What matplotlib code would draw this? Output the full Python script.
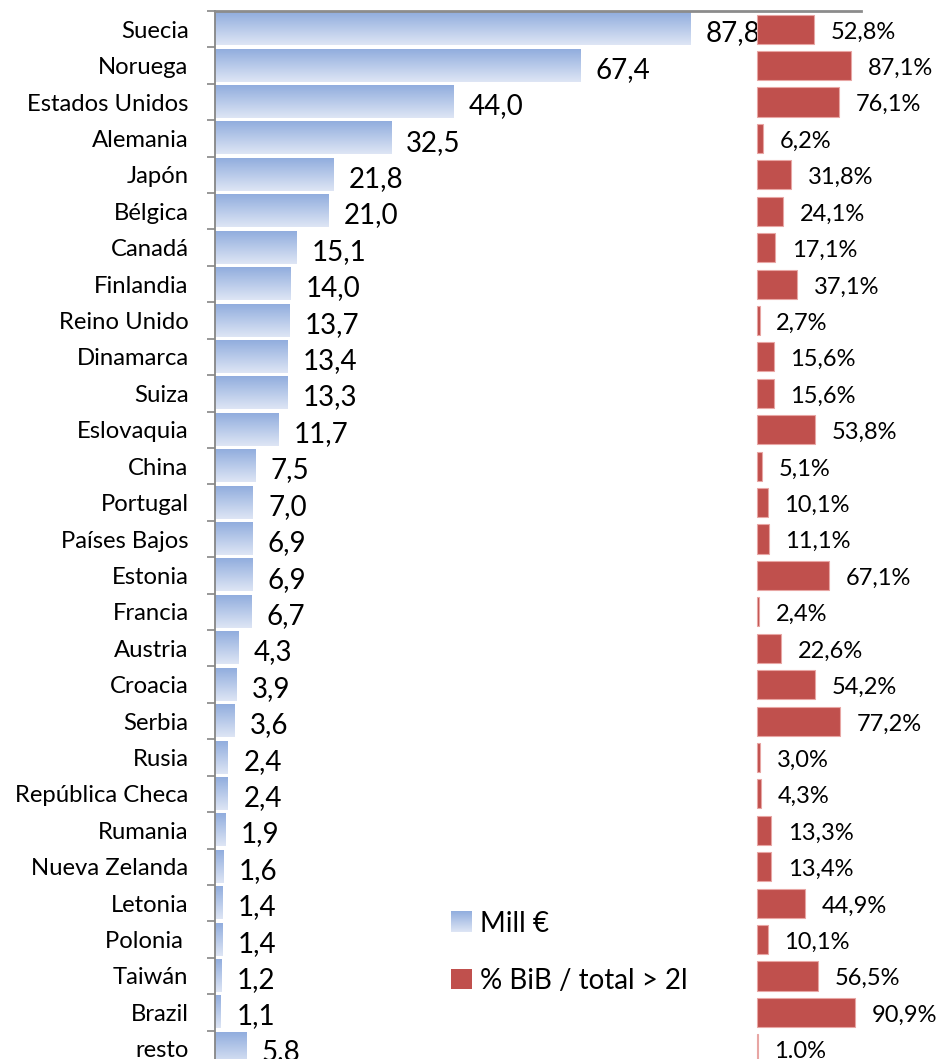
import numpy as np
import matplotlib
matplotlib.use('Agg')
import matplotlib.pyplot as plt
from matplotlib.patches import Patch
from matplotlib.legend_handler import HandlerBase
from matplotlib.image import BboxImage
from matplotlib.transforms import Bbox, TransformedBbox

plt.rcParams['font.family'] = ['Lato', 'DejaVu Sans']

paises = ['Suecia', 'Noruega', 'Estados Unidos', 'Alemania', 'Japón', 'Bélgica',
          'Canadá', 'Finlandia', 'Reino Unido', 'Dinamarca', 'Suiza', 'Eslovaquia',
          'China', 'Portugal', 'Países Bajos', 'Estonia', 'Francia', 'Austria',
          'Croacia', 'Serbia', 'Rusia', 'República Checa', 'Rumania', 'Nueva Zelanda',
          'Letonia', 'Polonia ', 'Taiwán', 'Brazil', 'resto']
mill_eur = [87.8, 67.4, 44.0, 32.5, 21.8, 21.0, 15.1, 14.0, 13.7, 13.4, 13.3, 11.7,
            7.5, 7.0, 6.9, 6.9, 6.7, 4.3, 3.9, 3.6, 2.4, 2.4, 1.9, 1.6, 1.4, 1.4,
            1.2, 1.1, 5.8]
pct_bib = [52.8, 87.1, 76.1, 6.2, 31.8, 24.1, 17.1, 37.1, 2.7, 15.6, 15.6, 53.8,
           5.1, 10.1, 11.1, 67.1, 2.4, 22.6, 54.2, 77.2, 3.0, 4.3, 13.3, 13.4,
           44.9, 10.1, 56.5, 90.9, 1.0]

W, H = 942, 1059
fig = plt.figure(figsize=(W / 100, H / 100), dpi=100)
ax = fig.add_axes([215 / W, (H - 1067) / H, (865 - 215) / W, (1067 - 11) / H])

n = len(paises)
y = np.arange(n)
grad = np.linspace(0, 1, 64)[:, None]
top = np.array([0.57, 0.68, 0.87])
bot = np.array([0.87, 0.90, 0.96])
img = top[None, None, :] * (1 - grad[:, :, None]) + bot[None, None, :] * grad[:, :, None]


class HandlerGradient(HandlerBase):
    def create_artists(self, legend, orig_handle, xdescent, ydescent, width,
                       height, fontsize, trans):
        bb = TransformedBbox(Bbox.from_bounds(-xdescent, -ydescent, width, height), trans)
        im = BboxImage(bb, interpolation='bilinear')
        im.set_data(img)
        return [im]


hb = 0.88
for i, v in enumerate(mill_eur):
    ax.imshow(img, extent=[0, v, i + hb / 2, i - hb / 2], aspect='auto',
              origin='upper', interpolation='bilinear', zorder=2)
    txt = ('%.1f' % v) if paises[i] == 'resto' else ('%.1f' % v).replace('.', ',')
    ax.annotate(txt, (v, i), xytext=(11, -3), textcoords='offset points',
                ha='left', va='center', fontsize=20, color='black')

ax.set_xlim(0, 120)
ax.set_ylim(n - 0.5, -0.5)
ax.set_xticks([])
ax.set_yticks(y)
ax.set_yticklabels(paises, fontsize=17.2)
ax.set_yticks(np.arange(n + 1) - 0.5, minor=True)
ax.tick_params(axis='y', which='major', length=0, pad=19)
ax.tick_params(axis='y', which='minor', length=6, width=1.2, color='#868686')
for s in ['right', 'bottom']:
    ax.spines[s].set_visible(False)
ax.spines['left'].set_color('#868686')
ax.spines['left'].set_linewidth(1.3)
ax.spines['top'].set_color('#8c8c8c')
ax.spines['top'].set_linewidth(2)
ax.spines['top'].set_bounds(0, 119.3)

ax2 = ax.twiny()
ax2.barh(y, pct_bib, height=0.8, left=0, color='#c0504d', edgecolor='#e8a6a4',
         linewidth=0.8, zorder=2)
for i, v in enumerate(pct_bib):
    txt = ('%.1f%%' % v) if paises[i] == 'resto' else ('%.1f%%' % v).replace('.', ',')
    ax2.annotate(txt, (v, i), xytext=(12, -2), textcoords='offset points',
                 ha='left', va='center', fontsize=17, color='black')
ax2.set_xlim(-500, 100)
ax2.set_ylim(n - 0.5, -0.5)
ax2.set_xticks([])
for s in ['right', 'bottom', 'left', 'top']:
    ax2.spines[s].set_visible(False)

handles = [Patch(facecolor='#b9cbec', edgecolor='none'),
           Patch(facecolor='#c0504d', edgecolor='none')]
fig.legend(handles, ['Mill €', '% BiB / total > 2l'], loc='upper left',
           bbox_to_anchor=(426 / W, 1 - 886 / H), frameon=False, fontsize=20,
           handlelength=0.75, handleheight=0.75, handletextpad=0.3,
           labelspacing=1.1, handler_map={handles[0]: HandlerGradient()})

fig.savefig('out.png', dpi=100)
